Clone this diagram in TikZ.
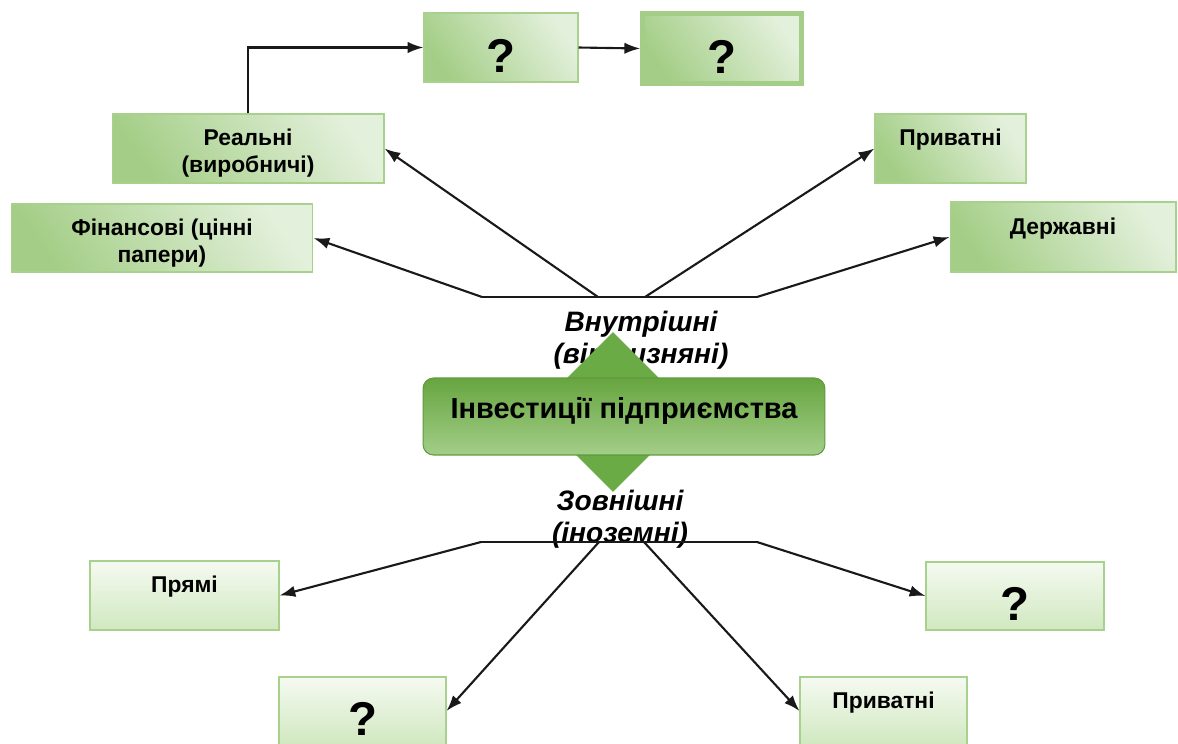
\documentclass[tikz,border=0pt]{standalone}
\usepackage{fontspec}
\setmainfont{Liberation Sans}
\usetikzlibrary{arrows.meta, shapes.geometric}

\definecolor{boxdark}{HTML}{A4CE87}
\definecolor{boxlight}{HTML}{E3F0DB}
\definecolor{boxedge}{HTML}{A9D18E}
\definecolor{lowtop}{HTML}{F5FAF1}
\definecolor{lowbottom}{HTML}{D0E8C0}
\definecolor{hubgreen}{HTML}{6AAB46}
\definecolor{hubtop}{HTML}{67A540}
\definecolor{hubbottom}{HTML}{A3CE88}

\tikzset{
    upbox/.style = {draw = boxedge, line width = 0.6pt, bottom color = boxdark, top color = boxlight, shading angle = -55, align = center, inner sep = 0pt, font = \bfseries\fontsize{13}{15.5}\selectfont},
    lowbox/.style = {draw = boxedge, line width = 0.6pt, top color = lowtop, bottom color = lowbottom, align = center, inner sep = 0pt, font = \bfseries\fontsize{13}{15.5}\selectfont},
    raised/.style = {text depth = 12.4pt},
    ask/.style = {font = \bfseries\fontsize{27}{30}\selectfont, text height = 28pt},
    link/.style = {line width = 1.2pt, black!90},
    arrow/.style = {link, -{Latex[length = 9pt, width = 6.5pt]}},
    kind/.style = {align = center, font = \bfseries\itshape\fontsize{16}{18.5}\selectfont}
}

\begin{document}
\begin{tikzpicture}[x = 0.02cm, y = -0.02cm]

    \clip (0, 0) rectangle (1178, 744);

    \node[upbox, ask, minimum width = 3.08cm, minimum height = 1.38cm] (qa) at (501, 47.5) {?};
    \node[upbox, ask, draw = boxdark, line width = 2.6pt, minimum width = 3.18cm, minimum height = 1.40cm] (qb) at (722, 48.5) {?};
    \node[upbox, minimum width = 5.44cm, minimum height = 1.38cm] (real) at (248, 148.5) {\rule{0pt}{15pt}Реальні\\(виробничі)};
    \node[upbox, minimum width = 6.04cm, minimum height = 1.36cm] (fin) at (162, 238) {\rule{0pt}{15pt}Фінансові (цінні\\папери)};
    \node[upbox, raised, minimum width = 3.02cm, minimum height = 1.38cm] (privA) at (950.5, 148.5) {Приватні};
    \node[upbox, raised, minimum width = 4.52cm, minimum height = 1.40cm] (state) at (1063, 237) {Державні};

    \node[kind] (inner) at (641, 340) {Внутрішні\\(вітчизняні)};
    \node[kind] (outer) at (620, 519) {Зовнішні\\(іноземні)};

    \node[diamond, fill = hubgreen, inner sep = 0pt, minimum width = 3.2cm, minimum height = 3.2cm] (hub) at (613, 412) {};
    \node[draw = hubgreen!90!black, line width = 0.6pt, rounded corners = 6pt, top color = hubtop, bottom color = hubbottom, minimum width = 8.04cm, minimum height = 1.54cm, text depth = 10pt, font = \bfseries\fontsize{16.5}{19}\selectfont] (firm) at (624, 416.5) {Інвестиції підприємства};

    \node[lowbox, raised, minimum width = 3.78cm, minimum height = 1.38cm] (direct) at (184.5, 595.5) {Прямі};
    \node[lowbox, ask, minimum width = 3.34cm, minimum height = 1.36cm] (qc) at (362.5, 711) {?};
    \node[lowbox, raised, minimum width = 3.34cm, minimum height = 1.36cm] (privB) at (883.5, 711) {Приватні};
    \node[lowbox, ask, minimum width = 3.56cm, minimum height = 1.36cm] (qd) at (1015, 596) {?};

    \coordinate (inL) at (482, 297);
    \coordinate (inA) at (598, 297);
    \coordinate (inB) at (645, 297);
    \coordinate (inR) at (757, 297);
    \coordinate (exL) at (481, 542);
    \coordinate (exA) at (599, 542);
    \coordinate (exB) at (644, 542);
    \coordinate (exR) at (757, 542);

    \draw[link] (inL) -- (inR);
    \draw[arrow] (inL) -- (fin.east);
    \draw[arrow] (inA) -- (real.east);
    \draw[arrow] (inB) -- (privA.west);
    \draw[arrow] (inR) -- (state.west);

    \draw[arrow] (real.north) |- (qa.west);
    \draw[arrow] (qa.east) -- (qb.west);

    \draw[link] (exL) -- (exR);
    \draw[arrow] (exL) -- (direct.east);
    \draw[arrow] (exA) -- (qc.east);
    \draw[arrow] (exB) -- (privB.west);
    \draw[arrow] (exR) -- (qd.west);

\end{tikzpicture}
\end{document}
